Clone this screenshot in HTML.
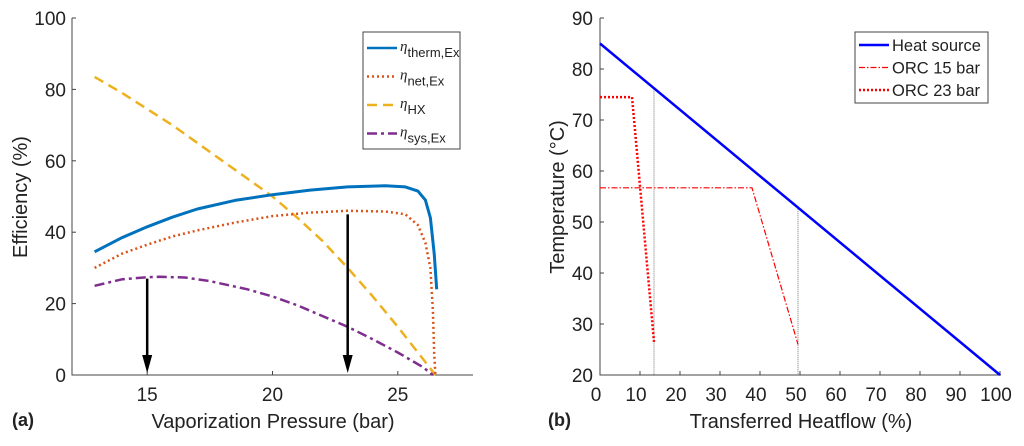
<!DOCTYPE html>
<html><head><meta charset="utf-8"><style>
body{margin:0;background:#fff;width:1024px;height:441px;overflow:hidden}
svg{font-family:"Liberation Sans",sans-serif}
</style></head><body>
<svg id="s" width="1024" height="441"></svg>
<script>
const thermX=[12.9,14,15,16,17,18.5,20,21.5,23,24.5,25.3,25.8,26.1,26.3,26.45,26.55];
const thermY=[34.5,38.5,41.5,44.2,46.5,48.9,50.5,51.8,52.7,53,52.7,51.5,49,44,34,24];
const netX=[12.9,14,15,16,17,18.5,20,21.5,23,24.5,25.3,25.8,26.1,26.3,26.4,26.45,26.5];
const netY=[30,34,36.5,38.8,40.5,42.7,44.5,45.5,46,45.8,45,42,37,30,18,6,0];
const hxX=[12.9,14,15,16,17,18,19,20,21,22,23,24,25,26,26.5];
const hxY=[83.5,79,74.5,70,65,60,55,50,44,37.5,30,22,13.5,4.5,0];
const sysX=[12.9,14,15,15.5,16.5,17.5,19,20,21,22,23,24,25,26,26.4];
const sysY=[25,26.8,27.4,27.5,27.3,26.3,24,22,19.5,16.5,13.5,10,6.3,2.2,0];
const arrowX=[15,23];const arrowTop=[27,45];
const hsX=[0,100],hsY=[85,20];
const o15X=[0,38,49.5],o15Y=[56.7,56.7,26];
const o23X=[0,8,13.5],o23Y=[74.5,74.5,26.5];
const vX=[13.5,49.5],vTop=[76,53];
const lxTicks=[15,20,25],lyTicks=[0,20,40,60,80,100];
const rxTicks=[0,10,20,30,40,50,60,70,80,90,100],ryTicks=[20,30,40,50,60,70,80,90];
const s=document.getElementById('s');const NS='http://www.w3.org/2000/svg';
function mk(t,a,txt){const e=document.createElementNS(NS,t);for(const k in a)e.setAttribute(k,a[k]);if(txt!==undefined)e.textContent=txt;s.appendChild(e);return e;}
const lx=v=>72+(v-12)/16*401, ly=v=>375-v/100*357;
const rx=v=>600+v*4, ry=v=>375-(v-20)/70*357;
function line(X,Y,fx,fy,st,name){const d=X.map((x,i)=>(i?'L':'M')+fx(x).toFixed(1)+','+fy(Y[i]).toFixed(1)).join('');const p=mk('path',Object.assign({d:d,fill:'none','stroke-linejoin':'round'},st));return p;}
let a=mk('path',{d:'M72,18V375H473',stroke:'#444',fill:'none','stroke-width':1});
lxTicks.forEach(v=>{mk('line',{x1:lx(v),x2:lx(v),y1:375,y2:371,stroke:'#444'});const t=mk('text',{x:lx(v),y:401,'text-anchor':'middle','font-size':19,fill:'#222'},v);});
lyTicks.forEach(v=>{mk('line',{x1:72,x2:76,y1:ly(v),y2:ly(v),stroke:'#444'});const t=mk('text',{x:66,y:ly(v)+7,'text-anchor':'end','font-size':19,fill:'#222'},v);});
let t=mk('text',{x:273,y:428,'text-anchor':'middle','font-size':20,fill:'#222'},'Vaporization Pressure (bar)');
t=mk('text',{x:0,y:0,transform:'translate(27,197) rotate(-90)','text-anchor':'middle','font-size':20,fill:'#222'},'Efficiency (%)');
t=mk('text',{x:12,y:426,'font-size':18,'font-weight':'bold',fill:'#222'},'(a)');
line(hxX,hxY,lx,ly,{stroke:'#EDB120','stroke-width':2.5,'stroke-dasharray':'10,6'},'eta-hx-line');
line(sysX,sysY,lx,ly,{stroke:'#7E2F8E','stroke-width':2.5,'stroke-dasharray':'10,4,3,4'},'eta-sys-line');
line(netX,netY,lx,ly,{stroke:'#D95319','stroke-width':2.5,'stroke-dasharray':'2,3'},'eta-net-line');
line(thermX,thermY,lx,ly,{stroke:'#0072BD','stroke-width':3},'eta-therm-line');
arrowX.forEach((v,i)=>{const x=lx(v);let l=mk('line',{x1:x,x2:x,y1:ly(arrowTop[i]),y2:ly(0)-14,stroke:'#000','stroke-width':2.5});mk('path',{d:`M${x-5},${ly(0)-20}L${x+5},${ly(0)-20}L${x},${ly(0)-2}Z`,fill:'#000'});});
let lg=mk('rect',{x:363,y:32,width:97,height:117,fill:'#fff',stroke:'#444'});
const lent=[['therm,Ex',{stroke:'#0072BD','stroke-width':2.5}],['net,Ex',{stroke:'#D95319','stroke-width':2.5,'stroke-dasharray':'2,3'}],['HX',{stroke:'#EDB120','stroke-width':2.5,'stroke-dasharray':'10,6'}],['sys,Ex',{stroke:'#7E2F8E','stroke-width':2.5,'stroke-dasharray':'10,4,3,4'}]];
lent.forEach((e,i)=>{const y=48+i*28.5;mk('line',Object.assign({x1:367,x2:397,y1:y,y2:y},e[1]));const tx=mk('text',{x:400,y:y+3,'font-size':15,fill:'#222'});const a=document.createElementNS(NS,'tspan');a.setAttribute('font-family','"Liberation Serif",serif');a.setAttribute('font-style','italic');a.textContent='η';tx.appendChild(a);const b=document.createElementNS(NS,'tspan');b.setAttribute('dy','6');b.setAttribute('font-size','13');b.textContent=e[0];tx.appendChild(b);});
a=mk('path',{d:'M600,18V375H1001',stroke:'#444',fill:'none'});
rxTicks.forEach(v=>{mk('line',{x1:rx(v),x2:rx(v),y1:375,y2:371,stroke:'#444'});const t=mk('text',{x:rx(v)-4,y:401,'text-anchor':'middle','font-size':19,fill:'#222'},v);});
ryTicks.forEach(v=>{mk('line',{x1:600,x2:604,y1:ry(v),y2:ry(v),stroke:'#444'});const t=mk('text',{x:593,y:ry(v)+7,'text-anchor':'end','font-size':19,fill:'#222'},v);});
t=mk('text',{x:801,y:428,'text-anchor':'middle','font-size':20,fill:'#222'},'Transferred Heatflow (%)');
t=mk('text',{x:0,y:0,transform:'translate(564,197) rotate(-90)','text-anchor':'middle','font-size':20,fill:'#222'},'Temperature (°C)');
t=mk('text',{x:548,y:426,'font-size':18,'font-weight':'bold',fill:'#222'},'(b)');
vX.forEach((v,i)=>{const l=mk('line',{x1:rx(v),x2:rx(v),y1:ry(vTop[i]),y2:375,stroke:'#555','stroke-width':0.8,'stroke-dasharray':'1,1'});});
line(o15X,o15Y,rx,ry,{stroke:'#f00','stroke-width':1.2,'stroke-dasharray':'6,2,1.5,2'},'orc-15-bar-line');
line(o23X,o23Y,rx,ry,{stroke:'#f00','stroke-width':2.5,'stroke-dasharray':'2,2'},'orc-23-bar-line');
line(hsX,hsY,rx,ry,{stroke:'#0000ff','stroke-width':2.5},'heat-source-line');
lg=mk('rect',{x:855,y:32,width:133,height:71,fill:'#fff',stroke:'#444'});
[['Heat source',{stroke:'#0000ff','stroke-width':2.5}],['ORC 15 bar',{stroke:'#f00','stroke-width':1.2,'stroke-dasharray':'6,2,1.5,2'}],['ORC 23 bar',{stroke:'#f00','stroke-width':2.5,'stroke-dasharray':'2,2'}]].forEach((e,i)=>{const y=45+i*22.5;mk('line',Object.assign({x1:859,x2:889,y1:y,y2:y},e[1]));const tx=mk('text',{x:892,y:y+6,'font-size':16.5,fill:'#222'},e[0]);});
</script>
</body></html>
